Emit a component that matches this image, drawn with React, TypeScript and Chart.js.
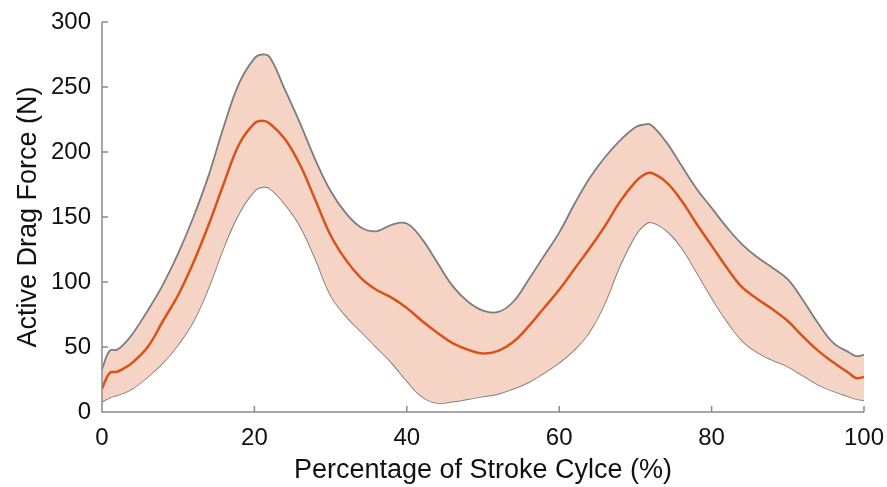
import React, { useEffect, useRef } from "react";
import { Chart, registerables } from "chart.js";

Chart.register(...registerables);

const xs = [0, 1, 2, 3, 4, 6, 8, 10, 12, 14, 16, 18, 20, 21, 22, 24, 26, 28, 30, 32, 34, 36, 38, 40, 42, 44, 46, 48, 50, 52, 54, 56, 58, 60, 62, 64, 66, 68, 70, 71, 72, 74, 76, 78, 80, 82, 84, 86, 88, 90, 92, 94, 96, 98, 99, 100];

const meanForce = [18, 30, 31, 34, 38, 50, 70, 90, 115, 144, 176, 206, 222, 224, 222, 210, 190, 163, 136, 117, 103, 94, 88, 80, 70, 61, 53, 48, 45, 47, 54, 66, 80, 94, 110, 126, 143, 162, 177, 182, 184, 177, 163, 145, 128, 111, 96, 87, 79, 70, 58, 47, 38, 30, 26, 27];

const upperForce = [33, 47, 48, 53, 60, 78, 98, 122, 150, 182, 220, 253, 272, 275, 273, 248, 222, 194, 170, 153, 142, 139, 144, 145, 133, 115, 97, 85, 78, 77, 85, 102, 120, 138, 160, 180, 196, 209, 219, 221, 221, 208, 190, 172, 157, 142, 129, 119, 111, 102, 86, 68, 53, 46, 43, 44];

const lowerForce = [8, 11, 13, 15, 18, 27, 38, 52, 70, 96, 127, 153, 170, 173, 172, 160, 143, 118, 90, 74, 62, 50, 38, 24, 12, 7, 8, 10, 12, 14, 18, 23, 30, 38, 48, 62, 84, 113, 136, 143, 146, 140, 127, 108, 88, 70, 55, 46, 40, 35, 28, 21, 16, 12, 10, 9];

const xTicks = [0, 20, 40, 60, 80, 100];
const yTicks = [0, 50, 100, 150, 200, 250, 300];

const xTitle = "Percentage of Stroke Cylce (%)";
const yTitle = "Active Drag Force (N)";

const toPts = (vals: number[]) => xs.map((x, i) => ({ x, y: vals[i] }));

const axisColor = "#8a8a8a";
const fontFamily = "'Liberation Sans', Arial, Helvetica, sans-serif";

const inwardAxes = {
  id: "inwardAxes",
  afterDraw(chart: any) {
    const { ctx, chartArea, scales } = chart;
    const xs_ = scales.x;
    const ys_ = scales.y;
    ctx.save();
    ctx.strokeStyle = axisColor;
    ctx.lineWidth = 1.5;
    ctx.beginPath();
    ctx.moveTo(chartArea.left, ys_.getPixelForValue(300));
    ctx.lineTo(chartArea.left, chartArea.bottom);
    ctx.lineTo(xs_.getPixelForValue(100), chartArea.bottom);
    ctx.stroke();
    const tl = 6;
    ctx.beginPath();
    yTicks.forEach((v) => {
      if (v === 0) return;
      const py = ys_.getPixelForValue(v);
      ctx.moveTo(chartArea.left, py);
      ctx.lineTo(chartArea.left + tl, py);
    });
    xTicks.forEach((v) => {
      if (v === 0) return;
      const px = xs_.getPixelForValue(v);
      ctx.moveTo(px, chartArea.bottom);
      ctx.lineTo(px, chartArea.bottom - tl);
    });
    ctx.stroke();
    ctx.restore();
  },
};

export default function App() {
  const ref = useRef<HTMLCanvasElement>(null);
  useEffect(() => {
    document.body.style.margin = "0";
    const chart = new Chart(ref.current!, {
      type: "line",
      data: {
        datasets: [
          {
            data: toPts(meanForce),
            borderColor: "rgb(217,83,25)",
            borderWidth: 2.5,
            pointRadius: 0,
            fill: false,
            tension: 0.4,
          },
          {
            data: toPts(upperForce),
            borderColor: "rgb(125,125,125)",
            borderWidth: 1.8,
            pointRadius: 0,
            fill: "+1",
            backgroundColor: "rgb(245,212,197)",
            tension: 0.4,
          },
          {
            data: toPts(lowerForce),
            borderColor: "rgb(125,125,125)",
            borderWidth: 1.8,
            pointRadius: 0,
            fill: false,
            tension: 0.4,
          },
        ],
      },
      options: {
        animation: false,
        responsive: false,
        maintainAspectRatio: false,
        layout: { padding: { top: 22, right: 23, left: 0, bottom: 0 } },
        plugins: { legend: { display: false }, tooltip: { enabled: false } },
        scales: {
          x: {
            type: "linear",
            min: 0,
            max: 100,
            afterBuildTicks: (s: any) => {
              s.ticks = xTicks.map((v) => ({ value: v }));
            },
            afterFit: (s: any) => {
              s.height = 75;
              s.paddingLeft = 0;
              s.paddingRight = 0;
            },
            grid: { display: false, drawTicks: false },
            border: { display: false },
            ticks: {
              color: "#111",
              font: { family: fontFamily, size: 24 },
              padding: 12,
              maxRotation: 0,
            },
            title: {
              display: true,
              text: xTitle,
              color: "#111",
              font: { family: fontFamily, size: 27 },
              padding: { top: 0, bottom: 0 },
            },
          },
          y: {
            type: "linear",
            min: 0,
            max: 300,
            afterBuildTicks: (s: any) => {
              s.ticks = yTicks.map((v) => ({ value: v }));
            },
            afterFit: (s: any) => {
              s.width = 102;
              s.paddingTop = 0;
              s.paddingBottom = 0;
            },
            grid: { display: false, drawTicks: false },
            border: { display: false },
            ticks: {
              color: "#111",
              font: { family: fontFamily, size: 24 },
              padding: 11,
            },
            title: {
              display: true,
              text: yTitle,
              color: "#111",
              font: { family: fontFamily, size: 27 },
              padding: { top: 12, bottom: 0 },
            },
          },
        },
      },
      plugins: [inwardAxes],
    });
    return () => chart.destroy();
  }, []);
  return (
    <div style={{ width: 887, height: 487, background: "#fff" }}>
      <canvas ref={ref} width={887} height={487} style={{ display: "block" }} />
    </div>
  );
}
